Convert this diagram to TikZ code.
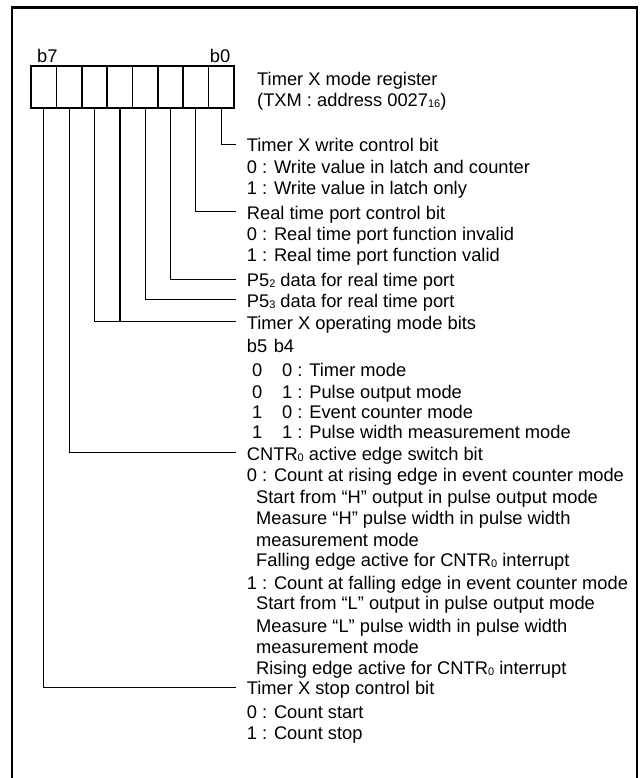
\documentclass[tikz,border=0pt]{standalone}
\usepackage{fontspec}
\setmainfont{Liberation Sans}
\newcommand{\sbs}[1]{\raisebox{-1pt}{\fontsize{11}{11}\selectfont #1}}
\begin{document}
\begin{tikzpicture}[x=1pt,y=-1pt,
  txt/.style={anchor=base west,inner sep=0pt,font=\fontsize{18.3}{21}\selectfont},
  cell/.style={draw,line width=1.6pt,minimum width=25.375pt,minimum height=42pt,inner sep=0pt},
  lead/.style={line width=0.9pt},
  frame/.style={line width=2.4pt}]
\useasboundingbox (0,0) rectangle (644,778);
% outer frame (open at the bottom)
\draw[frame] (11.7,779) -- (11.7,7.5) -- (637,7.5);
\draw[line width=1.4pt] (637,6.3) -- (637,779);
% register cells
\foreach \k in {0,...,7} {
  \node[cell] (c\k) at ({234-25.375*(\k+0.5)},87) {};
}
\node[txt] (lb7) at (37,62.7) {b7};
\node[txt,anchor=base east] (lb0) at (230.5,62.7) {b0};
\node[txt] (title1) at (257,86) {Timer X mode register};
\node[txt] (title2) at (257,106.7) {(TXM : address 0027\sbs{16})};
% texts
\node[txt] (t1) at (246.7,151.5) {Timer X write control bit};
\node[txt] (t2) at (246.7,173) {0 : Write value in latch and counter};
\node[txt] (t3) at (246.7,194.5) {1 : Write value in latch only};
\node[txt] (t4) at (246.7,219) {Real time port control bit};
\node[txt] (t5) at (246.7,240) {0 : Real time port function invalid};
\node[txt] (t6) at (246.7,261.5) {1 : Real time port function valid};
\node[txt] (t7) at (246.7,286.5) {P5\sbs{2} data for real time port};
\node[txt] (t8) at (246.7,307.2) {P5\sbs{3} data for real time port};
\node[txt] (t9) at (246.7,329) {Timer X operating mode bits};
\node[txt] (t10) at (246.7,352.5) {b5\hspace{6.5pt}b4};
\node[txt] (t11) at (252,376) {\makebox[30pt][l]{0}0 : Timer mode};
\node[txt] (t12) at (252,398) {\makebox[30pt][l]{0}1 : Pulse output mode};
\node[txt] (t13) at (252,418.5) {\makebox[30pt][l]{1}0 : Event counter mode};
\node[txt] (t14) at (252,438.5) {\makebox[30pt][l]{1}1 : Pulse width measurement mode};
\node[txt] (t15) at (246.7,460) {CNTR\sbs{0} active edge switch bit};
\node[txt] (t16) at (246.7,481.5) {0 : Count at rising edge in event counter mode};
\node[txt] (t17) at (256,503.5) {Start from “H” output in pulse output mode};
\node[txt] (t18) at (256,524.5) {Measure “H” pulse width in pulse width};
\node[txt] (t19) at (256,546) {measurement mode};
\node[txt] (t20) at (256,566.5) {Falling edge active for CNTR\sbs{0} interrupt};
\node[txt] (t21) at (246.7,589) {1 : Count at falling edge in event counter mode};
\node[txt] (t22) at (256,609.5) {Start from “L” output in pulse output mode};
\node[txt] (t23) at (256,632) {Measure “L” pulse width in pulse width};
\node[txt] (t24) at (256,653) {measurement mode};
\node[txt] (t25) at (256,674.5) {Rising edge active for CNTR\sbs{0} interrupt};
\node[txt] (t26) at (246.7,694.5) {Timer X stop control bit};
\node[txt] (t27) at (246.7,718) {0 : Count start};
\node[txt] (t28) at (246.7,739.5) {1 : Count stop};
% leader ends
\coordinate (e0) at (236,144);
\coordinate (e1) at (236,211.5);
\coordinate (e2) at (236,279);
\coordinate (e3) at (236,299.7);
\coordinate (e45) at (236,321.5);
\coordinate (e6) at (236,452.5);
\coordinate (e7) at (236,687);
% leaders
\draw[lead] (c0.south) |- (e0);
\draw[lead] (c1.south) |- (e1);
\draw[lead] (c2.south) |- (e2);
\draw[lead] (c3.south) |- (e3);
\draw[lead] (c5.south) |- (e45);
\draw[line width=1.4pt] (c4.south) -- (c4.south |- e45);
\draw[lead] (c6.south) |- (e6);
\draw[lead] (c7.south) |- (e7);
\end{tikzpicture}
\end{document}
